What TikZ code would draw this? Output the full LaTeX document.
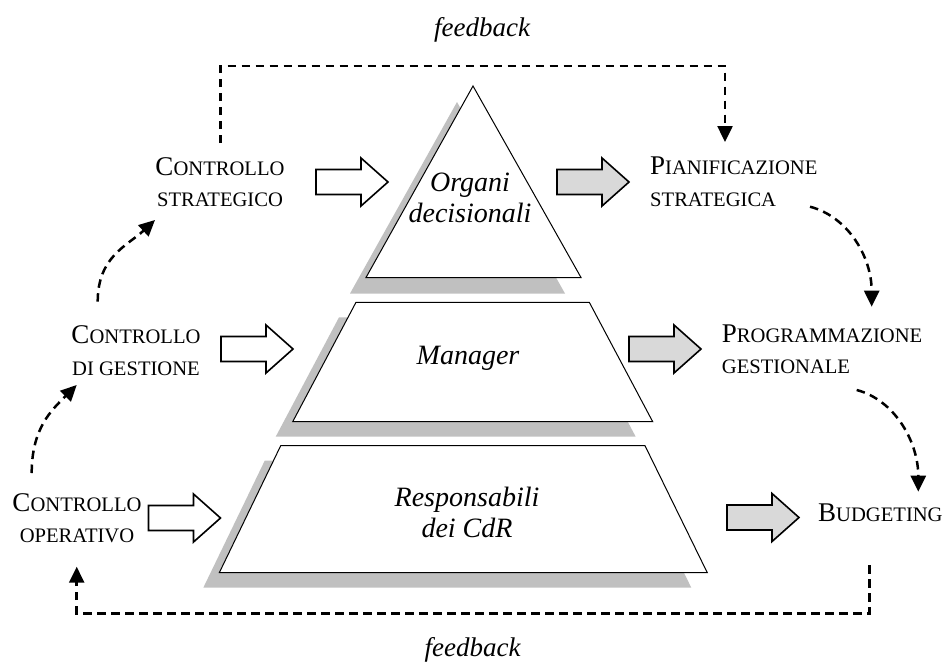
\documentclass[tikz,border=0pt]{standalone}
\usepackage{fontspec}
\setmainfont{Liberation Serif}
\usetikzlibrary{arrows.meta}
\definecolor{shadowgray}{HTML}{C0C0C0}
\definecolor{arrowgray}{HTML}{D9D9D9}
\newcommand\smc[1]{{\fontsize{20.6}{31.5}\selectfont #1}}
\tikzset{
  lbl/.style={font=\fontsize{27}{31.5}\selectfont, inner sep=0pt},
  lvl/.style={font=\fontsize{28}{31}\selectfont\itshape, inner sep=0pt, align=center},
  fbtext/.style={font=\fontsize{27}{31}\selectfont\itshape, inner sep=0pt},
  fbline/.style={line width=2.5pt, dash pattern=on 8.5pt off 5.5pt, -{Triangle[length=16pt,width=15pt]}},
  layer/.style={fill=white, draw=black, line width=1pt, line join=miter},
  barrow/.pic={\draw[line width=1.6pt, pic actions] (0,-12.5)--(45,-12.5)--(45,-24)--(72,0)--(45,24)--(45,12.5)--(0,12.5)--cycle;}
}
\begin{document}
\begin{tikzpicture}[x=1pt,y=-1pt]
\useasboundingbox (0,0) rectangle (944,662);
% shadows
\fill[shadowgray] (457,102)--(350,293.5)--(565,293.5)--cycle;
\fill[shadowgray] (339,317.3)--(572.3,317.3)--(635.7,436.7)--(275.7,436.7)--cycle;
\fill[shadowgray] (264.7,460.7)--(629,460.7)--(691.3,587.7)--(203.3,587.7)--cycle;
% layers
\draw[layer] (473,86)--(366,277.5)--(581,277.5)--cycle;
\draw[layer] (356,302.3)--(589.3,302.3)--(652.7,421.7)--(292.7,421.7)--cycle;
\draw[layer] (280.7,445.7)--(645,445.7)--(707.3,572.7)--(219.3,572.7)--cycle;
% layer texts
\node[lvl] (org) at (470,198) {Organi\\decisionali};
\node[lvl, anchor=base] (man) at (468,364) {Manager};
\node[lvl] (resp) at (467,512.5) {Responsabili\\dei CdR};
% labels left
\node[lbl, align=center] (cs) at (220,182) {C\smc{ONTROLLO}\\\smc{STRATEGICO}};
\node[lbl, align=center] (cg) at (136,350.5) {C\smc{ONTROLLO}\\\smc{DI GESTIONE}};
\node[lbl, align=center] (co) at (77,518) {C\smc{ONTROLLO}\\\smc{OPERATIVO}};
% labels right
\node[lbl, align=left, anchor=west] (ps) at (650,182) {P\smc{IANIFICAZIONE}\\\smc{STRATEGICA}};
\node[lbl, align=left, anchor=west] (pg) at (721.7,349.3) {P\smc{ROGRAMMAZIONE}\\\smc{GESTIONALE}};
\node[lbl, anchor=base west] (bu) at (818,521.7) {B\smc{UDGETING}};
% block arrows
\pic[fill=white] at (316,182) {barrow};
\pic[fill=white] at (221,349) {barrow};
\pic[fill=white] at (148.5,518) {barrow};
\pic[fill=arrowgray] at (557,182) {barrow};
\pic[fill=arrowgray] at (629,349) {barrow};
\pic[fill=arrowgray] at (727,517.5) {barrow};
% feedback texts
\node[fbtext, anchor=base] (fbt) at (482,36) {feedback};
\node[fbtext, anchor=base] (fbb) at (472.5,656.7) {feedback};
% connector end points
\coordinate (t1) at (220.7,143);
\coordinate (t2) at (725,142);
\coordinate (b1) at (869.3,565);
\coordinate (b2) at (76.7,566.7);
\coordinate (c1s) at (31.7,473);
\coordinate (c1e) at (76.7,385);
\coordinate (c2s) at (97.7,301.7);
\coordinate (c2e) at (155,220);
\coordinate (c3s) at (810,206.7);
\coordinate (c3e) at (871.7,306.7);
\coordinate (c4s) at (856.7,390);
\coordinate (c4e) at (918.3,491.7);
% feedback lines
\draw[fbline] (t1) |- (725,66) -- (t2);
\draw[fbline] (b1) |- (76.7,613.3) -- (b2);
% curved dashed arrows
\draw[fbline] (c1s) .. controls +(0,-45) and +(-25,25) .. (c1e);
\draw[fbline] (c2s) .. controls +(0,-45) and +(-28,26) .. (c2e);
\draw[fbline] (c3s) .. controls +(38,10) and +(0,-50) .. (c3e);
\draw[fbline] (c4s) .. controls +(38,10) and +(0,-50) .. (c4e);
\end{tikzpicture}
\end{document}
